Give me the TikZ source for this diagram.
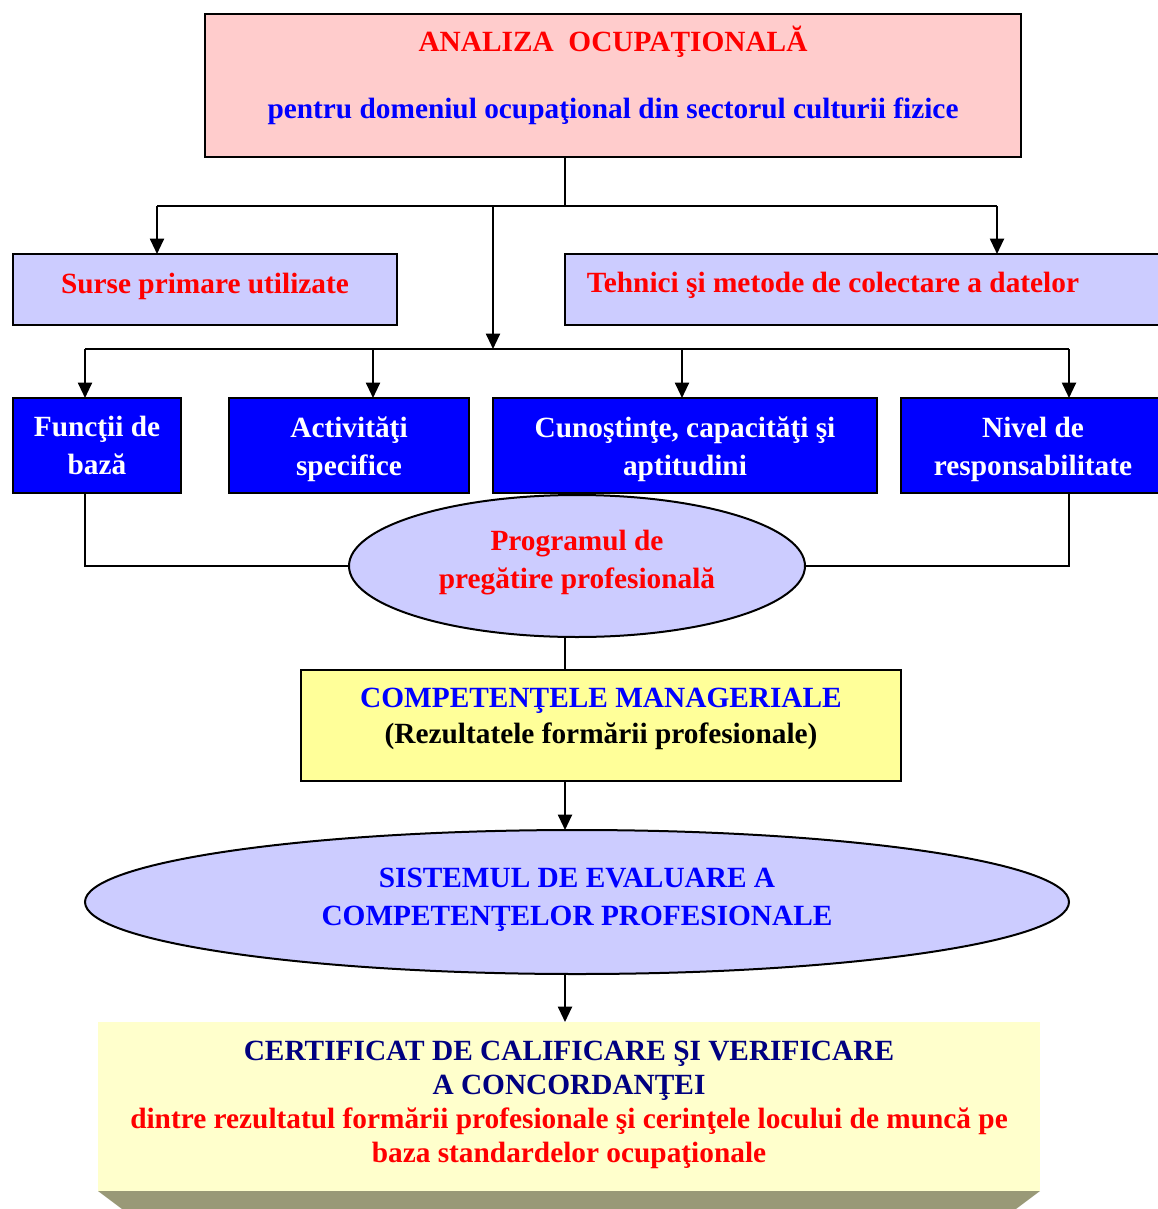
\documentclass[tikz,border=0pt]{standalone}
\usepackage{fontspec}
\setmainfont{Liberation Serif}
\usetikzlibrary{arrows.meta,shapes.geometric}
\definecolor{pinkfill}{HTML}{FFCCCC}
\definecolor{lav}{HTML}{CCCCFF}
\definecolor{yel}{HTML}{FFFF99}
\definecolor{paleyel}{HTML}{FFFFCC}
\definecolor{bevel}{HTML}{999977}
\definecolor{navy}{HTML}{000080}
\begin{document}
\begin{tikzpicture}[x=0.75pt,y=-0.75pt,
  frame/.style={draw=black,line width=1.5pt,inner sep=0pt,outer sep=0pt},
  wd/.style={minimum width=#1*0.75pt},
  ht/.style={minimum height=#1*0.75pt},
  txt/.style={font=\fontsize{22}{28.5}\selectfont\bfseries,align=center,inner sep=0pt},
  conn/.style={line width=1.5pt},
  arr/.style={conn,-{Triangle[length=11.5pt,width=10.5pt]}},
]
\useasboundingbox (0,0) rectangle (1157,1209);

% title box
\node[frame,fill=pinkfill,wd=816,ht=143] (top) at (613,85.5) {};
\node[txt,text=red] (topA) at (613,42) {ANALIZA\ \ OCUPAŢIONALĂ};
\node[txt,text=blue] (topB) at (613,111) {pentru domeniul ocupaţional din sectorul culturii fizice};

% sources and methods
\node[frame,fill=lav,wd=384,ht=71] (surse) at (205,289.5) {};
\node[txt,text=red] (surseT) at (205,286) {Surse primare utilizate};
\node[frame,fill=lav,wd=620,ht=71] (teh) at (875,289.5) {};
\node[txt,text=red] (tehT) at (833,285) {Tehnici şi metode de colectare a datelor};

% four blue boxes
\node[frame,fill=blue,wd=168,ht=95] (f1) at (97,445.5) {};
\node[frame,fill=blue,wd=240,ht=95] (f2) at (349,445.5) {};
\node[frame,fill=blue,wd=384,ht=95] (f3) at (685,445.5) {};
\node[frame,fill=blue,wd=264,ht=95] (f4) at (1033,445.5) {};
\node[txt,text=white] (f1T) at (97,445.5) {Funcţii de\\bază};
\node[txt,text=white] (f2T) at (349,449.5) {Activităţi\\specifice};
\node[txt,text=white] (f3T) at (685,449) {Cunoştinţe, capacităţi şi\\aptitudini};
\node[txt,text=white] (f4T) at (1033,449.5) {Nivel de\\responsabilitate};

% training programme
\node[frame,ellipse,fill=lav,wd=456,ht=142] (prog) at (577,566) {};
\node[txt,text=red] (progT) at (577,563) {Programul de\\pregătire profesională};

% managerial competences
\node[frame,fill=yel,wd=600,ht=111] (comp) at (601,725.5) {};
\node[txt,text=blue,font=\fontsize{22}{27}\selectfont\bfseries] (compT) at (601,719) {COMPETENŢELE MANAGERIALE\\\textcolor{black}{(Rezultatele formării profesionale)}};

% evaluation system
\node[frame,ellipse,fill=lav,wd=984,ht=144] (sist) at (577,902) {};
\node[txt,text=blue] (sistT) at (577,900) {SISTEMUL DE EVALUARE A\\COMPETENŢELOR PROFESIONALE};

% certificate with bevelled base
\node[fill=paleyel,inner sep=0pt,outer sep=0pt,wd=942,ht=169] (cert) at (569,1106.5) {};
\fill[bevel] (cert.south west) -- (cert.south east) -- ++(-24,18) -- (122,1209) -- cycle;
\node[txt,font=\fontsize{22}{25.5}\selectfont\bfseries,text=navy] (certT) at (569,1105)
  {CERTIFICAT DE CALIFICARE ŞI VERIFICARE\\A CONCORDANŢEI\\
   \textcolor{red}{dintre rezultatul formării profesionale şi cerinţele locului de muncă pe}\\
   \textcolor{red}{baza standardelor ocupaţionale}};

% connectors, upper branch
\coordinate (jTop) at (565,206);
\coordinate (jL) at (157,206);
\coordinate (jM) at (493,206);
\coordinate (jR) at (997,206);
\draw[conn] (top.south -| jTop) -- (jTop);
\draw[conn] (jL) -- (jR);
\draw[arr] (jL) -- (jL |- surse.north);
\draw[arr] (jR) -- (jR |- teh.north);

% connectors, lower branch
\coordinate (jB) at (493,349);
\coordinate (k1) at (85,349);
\coordinate (k2) at (373,349);
\coordinate (k3) at (682,349);
\coordinate (k4) at (1069,349);
\draw[arr] (jM) -- (jB);
\draw[conn] (k1) -- (k4);
\draw[arr] (k1) -- (k1 |- f1.north);
\draw[arr] (k2) -- (k2 |- f2.north);
\draw[arr] (k3) -- (k3 |- f3.north);
\draw[arr] (k4) -- (k4 |- f4.north);

% links into the programme and down the chain
\draw[conn] (f1.south -| k1) |- (prog.west);
\draw[conn] (f4.south -| k4) |- (prog.east);
\draw[conn] (prog.south -| jTop) -- (comp.north -| jTop);
\draw[arr] (comp.south -| jTop) -- (sist.north -| jTop);
\draw[arr] (sist.south -| jTop) -- (cert.north -| jTop);
\end{tikzpicture}
\end{document}
